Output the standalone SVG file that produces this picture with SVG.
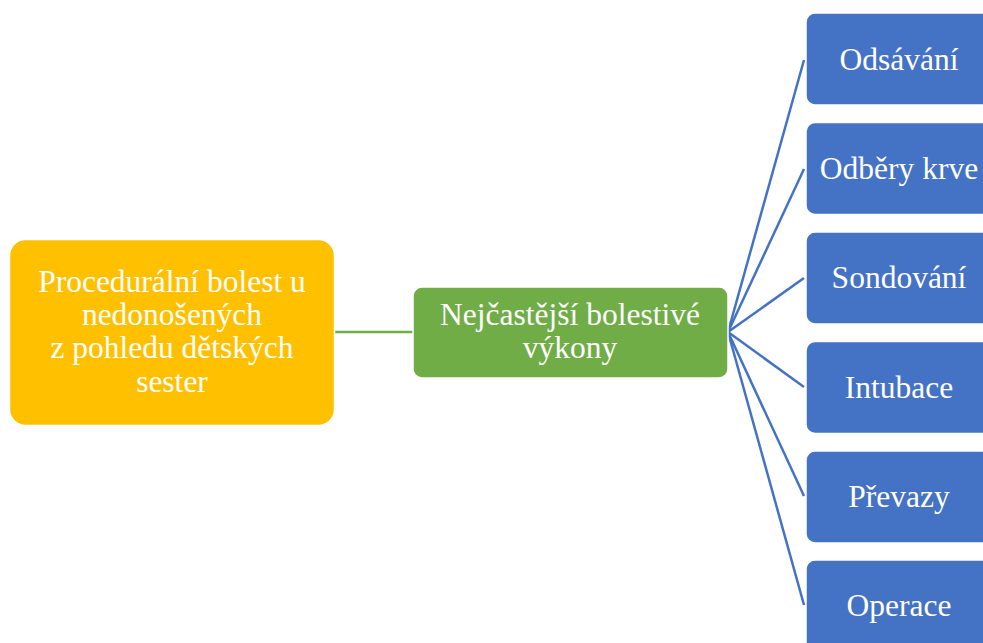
<svg xmlns="http://www.w3.org/2000/svg" width="983" height="643" viewBox="0 0 983 643">
<style>
text{font-family:"Liberation Serif","Times New Roman",serif;font-size:31.5px;fill:#fff;text-anchor:middle}
.leaf{fill:#4472C4;stroke:#fff;stroke-width:1.5}
.fan{stroke:#4472C4;stroke-width:2.5;fill:none}
</style>
<rect width="983" height="643" fill="#fff"/>
<g id="connectors">
<line x1="335" y1="332" x2="413" y2="332" stroke="#70AD47" stroke-width="2.5"/>
<line class="fan" x1="728" y1="332" x2="804" y2="60"/>
<line class="fan" x1="728" y1="332" x2="804" y2="169"/>
<line class="fan" x1="728" y1="332" x2="804" y2="278"/>
<line class="fan" x1="728" y1="332" x2="804" y2="387"/>
<line class="fan" x1="728" y1="332" x2="804" y2="496"/>
<line class="fan" x1="728" y1="332" x2="804" y2="605"/>
</g>
<g id="root">
<rect x="9.5" y="239.5" width="325" height="186" rx="16" fill="#FFC000" stroke="#fff" stroke-width="1.5"/>
<text x="172" y="292">Procedurální bolest u</text>
<text x="172" y="325">nedonošených</text>
<text x="172" y="358">z pohledu dětských</text>
<text x="172" y="392">sester</text>
</g>
<g id="mid">
<rect x="413" y="287" width="315" height="91" rx="9" fill="#70AD47" stroke="#fff" stroke-width="1.5"/>
<text x="570" y="325">Nejčastější bolestivé</text>
<text x="570" y="358">výkony</text>
</g>
<g id="n1"><rect class="leaf" x="806" y="13" width="186" height="92" rx="9"/><text x="899" y="70">Odsávání</text></g>
<g id="n2"><rect class="leaf" x="806" y="122.5" width="186" height="92" rx="9"/><text x="899" y="179">Odběry krve</text></g>
<g id="n3"><rect class="leaf" x="806" y="232" width="186" height="92" rx="9"/><text x="899" y="288">Sondování</text></g>
<g id="n4"><rect class="leaf" x="806" y="341.5" width="186" height="92" rx="9"/><text x="899" y="398">Intubace</text></g>
<g id="n5"><rect class="leaf" x="806" y="451" width="186" height="92" rx="9"/><text x="899" y="507">Převazy</text></g>
<g id="n6"><rect class="leaf" x="806" y="560" width="186" height="92" rx="9"/><text x="899" y="616">Operace</text></g>
</svg>
